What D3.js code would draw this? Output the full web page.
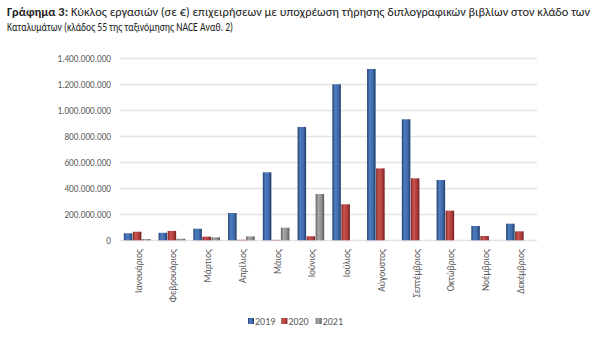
<!DOCTYPE html>
<html><head><meta charset="utf-8">
<script src="https://cdn.jsdelivr.net/npm/d3@7"></script>
<style>body{margin:0;background:#fff}svg{display:block}</style>
</head><body><div id="c"></div>
<script>
const months = ["Ιανουάριος","Φεβρουάριος","Μάρτιος","Απρίλιος","Μάιος","Ιούνιος","Ιούλιος","Αύγουστος","Σεπτέμβριος","Οκτώβριος","Νοέμβριος","Δεκέμβριος"];
const years = ["2019","2020","2021"];
const v2019 = [54e6,58e6,89e6,210e6,523e6,872e6,1200e6,1318e6,931e6,464e6,110e6,128e6];
const v2020 = [66e6,72e6,28e6,4e6,3e6,31e6,277e6,553e6,477e6,228e6,33e6,69e6];
const v2021 = [10e6,12e6,23e6,30e6,97e6,356e6,null,null,null,null,null,null];
const yTicks = [0,200e6,400e6,600e6,800e6,1000e6,1200e6,1400e6];
const titleBold = "Γράφημα 3:";
const titleRest = " Κύκλος εργασιών (σε €) επιχειρήσεων με υποχρέωση τήρησης διπλογραφικών βιβλίων στον κλάδο των";
const titleLine2 = "Καταλυμάτων (κλάδος 55 της ταξινόμησης NACE Αναθ. 2)";

const series = [v2019, v2020, v2021];
const W = 600, H = 340;
const svg = d3.select("#c").append("svg").attr("width", W).attr("height", H);
const font = "Carlito, 'Liberation Sans', Arial, sans-serif";

const defs = svg.append("defs");
const grads = [
  ["#22416f","#4f7cc0","#3f6aab","#1f3b66"],
  ["#7a2421","#c95450","#b03e3a","#6e1f1c"],
  ["#5e5e5e","#a8a8a8","#8e8e8e","#555555"]
];
grads.forEach((g,i)=>{
  const lg = defs.append("linearGradient").attr("id","g"+i).attr("x1","0").attr("x2","1").attr("y1","0").attr("y2","0");
  lg.append("stop").attr("offset","0").attr("stop-color",g[0]);
  lg.append("stop").attr("offset","0.3").attr("stop-color",g[1]);
  lg.append("stop").attr("offset","0.7").attr("stop-color",g[2]);
  lg.append("stop").attr("offset","1").attr("stop-color",g[3]);
});

// Title
const t1 = svg.append("text").attr("x",7).attr("y",16).attr("font-family",font).attr("font-size",11.5).attr("fill","#222")
  .attr("textLength",583).attr("lengthAdjust","spacingAndGlyphs");
t1.append("tspan").attr("font-weight","bold").text(titleBold);
t1.append("tspan").text(titleRest);
svg.append("text").attr("x",7).attr("y",31).attr("font-family",font).attr("font-size",11.5).attr("fill","#222")
  .attr("textLength",226).attr("lengthAdjust","spacingAndGlyphs").text(titleLine2);

const x0 = d3.scaleBand().domain(months).range([120,537]).paddingInner(0.22).paddingOuter(0.11);
const x1 = d3.scaleBand().domain(years).range([0,x0.bandwidth()]);
const y = d3.scaleLinear().domain([0,1400e6]).range([240.3,58.3]);

// gridlines
svg.append("g").selectAll("line").data(yTicks).join("line")
  .attr("x1",120).attr("x2",537).attr("y1",d=>Math.round(y(d))+0.5).attr("y2",d=>Math.round(y(d))+0.5)
  .attr("stroke","#e3e3e3").attr("stroke-width",1.5);

// y labels
const yAxis = d3.axisLeft(y).tickValues(yTicks).tickSize(0).tickPadding(0)
  .tickFormat(d=>d3.format(",")(d).replace(/,/g,"."));
const ya = svg.append("g").attr("transform","translate(111,0)").call(yAxis);
ya.select(".domain").remove();
ya.selectAll("text").attr("font-family",font).attr("font-size",9.2).attr("fill","#595959");

// bars
const g = svg.append("g");
months.forEach((m,i)=>{
  series.forEach((s,j)=>{
    const v = s[i];
    if (v == null) return;
    g.append("rect").attr("x",x0(m)+x1(years[j])).attr("width",x1.bandwidth()-0.5)
      .attr("y",y(v)).attr("height",y(0)-y(v)).attr("fill","url(#g"+j+")");
  });
});

// x labels
const xAxis = d3.axisBottom(x0).tickSize(0).tickPadding(0);
const xa = svg.append("g").attr("transform","translate(1,242)").call(xAxis);
xa.select(".domain").remove();
xa.selectAll("text").attr("font-family",font).attr("font-size",9.5).attr("fill","#595959")
  .attr("text-anchor","end").attr("dy","0.35em").attr("transform","rotate(-90) translate(-7,0)").attr("x",0).attr("y",0);

// legend
const leg = svg.append("g").attr("transform","translate(248,321)");
const legX = [0,33.4,67.7];
years.forEach((yr,j)=>{
  leg.append("rect").attr("x",legX[j]).attr("y",-3).attr("width",6).attr("height",6).attr("fill","url(#g"+j+")");
  leg.append("text").attr("x",legX[j]+7).attr("y",0).attr("dy","0.35em").attr("font-family",font).attr("font-size",10).attr("fill","#595959").text(yr);
});
</script></body></html>
